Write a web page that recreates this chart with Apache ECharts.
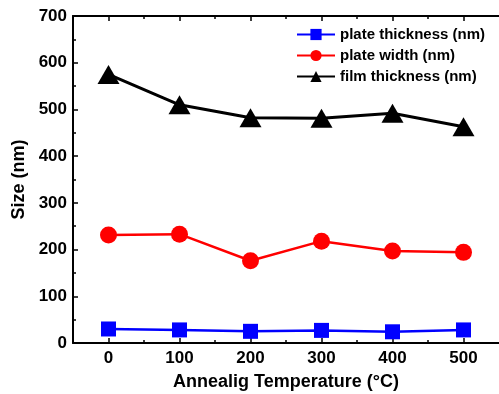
<!DOCTYPE html>
<html>
<head>
<meta charset="utf-8">
<script src="https://cdn.jsdelivr.net/npm/echarts@6/dist/echarts.min.js"></script>
<style>
    html, body { margin: 0; padding: 0; background: #fff; }
    #chart { width: 499px; height: 394px; }
</style>
</head>
<body>
<div id="chart"></div>
<script>
// annealing temperature (°C)
var temps = [0, 100, 200, 300, 400, 500];
var plateThickness = [30, 28, 25, 27, 24, 28];
var plateWidth = [231, 233, 176, 218, 197, 194];
var filmThickness = [575, 510, 482, 481, 492, 463];
var filmError = [18, 18, 18, 18, 18, 18];
var xTicks = [0, 100, 200, 300, 400, 500];
var xMinorTicks = [50, 150, 250, 350, 450];

var FONT = "Liberation Sans, Arial, sans-serif";

function pairs(xs, ys){
    var out = [];
    for (var i = 0; i < xs.length; i++){
        out.push([xs[i], ys[i]]);
    }
    return out;
}

var errData = [];
for (var i = 0; i < temps.length; i++){
    errData.push([temps[i], filmThickness[i] - filmError[i], filmThickness[i] + filmError[i]]);
}

var chart = echarts.init(document.getElementById("chart"));

var baseX = {
    type: 'value',
    min: -50,
    max: 550,
    splitLine: {show: false}
};

var option = {
    animation: false,
    grid: {left: 73, top: 16, right: 0, bottom: 51, outerBoundsMode: 'none'},
    legend: {
        orient: 'vertical',
        left: 291,
        top: 22,
        itemWidth: 38,
        itemHeight: 14,
        itemGap: 6,
        textStyle: {fontFamily: FONT, fontWeight: 'bold', fontSize: 15, color: '#000'},
        data: ['plate thickness (nm)', 'plate width (nm)', 'film thickness (nm)']
    }
};

option.xAxis = [
    Object.assign({}, baseX, {
        position: 'bottom',
        name: 'Annealig Temperature (\u00B0C)',
        nameLocation: 'middle',
        nameGap: 30,
        nameTextStyle: {fontFamily: FONT, fontWeight: 'bold', fontSize: 18, color: '#000'},
        axisLine: {show: true, onZero: false, lineStyle: {color: '#000', width: 2}},
        axisTick: {show: true, inside: true, length: 5, customValues: xTicks, lineStyle: {color: '#000', width: 1.5}},
        axisLabel: {customValues: xTicks, margin: 7, fontFamily: FONT, fontWeight: 'bold', fontSize: 17, color: '#000'}
    }),
    Object.assign({}, baseX, {
        position: 'bottom',
        axisLine: {show: false},
        axisTick: {show: true, inside: true, length: 3, customValues: xMinorTicks, lineStyle: {color: '#000', width: 1.5}},
        axisLabel: {show: false}
    }),
    Object.assign({}, baseX, {
        position: 'top',
        axisLine: {show: true, onZero: false, lineStyle: {color: '#000', width: 2}},
        axisTick: {show: true, inside: true, length: 5, customValues: xTicks, lineStyle: {color: '#000', width: 1.5}},
        axisLabel: {show: false}
    }),
    Object.assign({}, baseX, {
        position: 'top',
        axisLine: {show: false},
        axisTick: {show: true, inside: true, length: 3, customValues: xMinorTicks, lineStyle: {color: '#000', width: 1.5}},
        axisLabel: {show: false}
    })
];

option.yAxis = [
    {
        type: 'value',
        min: 0,
        max: 700,
        interval: 100,
        position: 'left',
        name: 'Size (nm)',
        nameLocation: 'middle',
        nameGap: 44,
        nameTextStyle: {fontFamily: FONT, fontWeight: 'bold', fontSize: 18, color: '#000'},
        splitLine: {show: false},
        axisLine: {show: true, onZero: false, lineStyle: {color: '#000', width: 2}},
        axisTick: {show: true, inside: true, length: 5, lineStyle: {color: '#000', width: 1.5}},
        minorTick: {show: true, splitNumber: 2, length: 3, lineStyle: {color: '#000', width: 1.5}},
        axisLabel: {margin: 6, fontFamily: FONT, fontWeight: 'bold', fontSize: 17, color: '#000'}
    }
];

option.series = [
    {
        name: 'film error',
        type: 'custom',
        xAxisIndex: 0,
        silent: true,
        renderItem: function(params, api){
            var lo = api.coord([api.value(0), api.value(1)]);
            var hi = api.coord([api.value(0), api.value(2)]);
            return {
                type: 'line',
                shape: {x1: lo[0], y1: lo[1], x2: hi[0], y2: hi[1]},
                style: {stroke: '#000', lineWidth: 1}
            };
        },
        data: errData,
        z: 1
    },
    {
        name: 'plate thickness (nm)',
        type: 'line',
        data: pairs(temps, plateThickness),
        symbol: 'rect',
        symbolSize: 15,
        lineStyle: {color: '#0000ff', width: 2.5},
        itemStyle: {color: '#0000ff'},
        z: 3
    },
    {
        name: 'plate width (nm)',
        type: 'line',
        data: pairs(temps, plateWidth),
        symbol: 'circle',
        symbolSize: 17,
        lineStyle: {color: '#ff0000', width: 2.5},
        itemStyle: {color: '#ff0000'},
        z: 3
    },
    {
        name: 'film thickness (nm)',
        type: 'line',
        data: pairs(temps, filmThickness),
        symbol: 'triangle',
        symbolSize: [22, 19],
        lineStyle: {color: '#000', width: 3},
        itemStyle: {color: '#000'},
        z: 3
    }
];

chart.setOption(option);
</script>
</body>
</html>
